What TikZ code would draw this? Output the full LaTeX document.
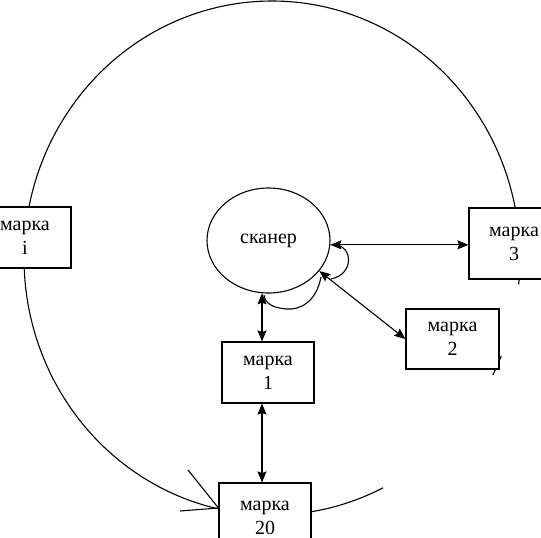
\documentclass[tikz,border=0pt]{standalone}
\usepackage{fontspec}
\setmainfont{Liberation Serif}
\usetikzlibrary{arrows.meta,calc,shapes.geometric}
\begin{document}
\begin{tikzpicture}[x=1pt,y=-1pt,
  every node/.style={font=\fontsize{20}{24}\selectfont},
  link/.style={line width=1.1pt},
  markbox/.style={draw, line width=1.1pt, fill=white, align=center, minimum width=92pt, minimum height=61pt, inner sep=0pt},
  scanbox/.style={draw, ellipse, line width=1.1pt, minimum width=123pt, minimum height=105pt, inner sep=0pt},
  dblarrow/.style={link, {Stealth[length=11pt,width=9pt,inset=1.5pt]}-{Stealth[length=11pt,width=9pt,inset=1.5pt]}}]
\useasboundingbox (0,0) rectangle (541,538);
% big ring (hand-drawn, broken)
\draw[link] plot[domain=102.3:348.9, samples=150, smooth] ({272+248*cos(\x)},{258+257*sin(\x)});
\draw[link] plot[domain=63.4:81, samples=30, smooth] ({272+248*cos(\x)},{258+257*sin(\x)});
\draw[link] plot[domain=4.5:5.9, samples=5] ({272+248*cos(\x)},{258+257*sin(\x)});
\draw[link] plot[domain=22.4:24.2, samples=5] ({272+248*cos(\x)},{258+257*sin(\x)});
\draw[link] plot[domain=25.6:27.1, samples=5] ({272+248*cos(\x)},{258+257*sin(\x)});
% nodes
\node[markbox] (mi) at (25,237.5) {марка\\i};
\node[markbox, minimum width=90pt, minimum height=71pt] (m3) at (514,243.5) {марка\\3};
\node[markbox, minimum width=93pt, minimum height=60pt] (m2) at (452.5,339) {марка\\2};
\node[markbox] (m1) at (268,372.5) {марка\\1};
\node[markbox, minimum height=70pt] (m20) at (265,518) {марка\\20};
\node[scanbox] (scan) at (268.5,240.5) {сканер};
% open arrowhead of the ring at marka 20
\coordinate (tip) at ([yshift=10pt]m20.west);
\draw[link] (188,470) -- (tip);
\draw[link] (180,511) -- (tip);
% connectors
\draw[dblarrow] (scan.-97) -- (scan.-97 |- m1.north);
\draw[dblarrow] (scan.-4) -- (scan.-4 -| m3.west);
\draw[dblarrow] (scan.-31) -- (m2.west);
\draw[dblarrow] ([xshift=-6pt]m1.south) -- ([xshift=-6pt]m1.south |- m20.north);
% self loops
\coordinate (l1a) at (336,245);
\coordinate (l1b) at (331,279);
\draw[link] (l1a) .. controls (352,246) and (355,274) .. (l1b);
\coordinate (l2a) at (321,277);
\coordinate (l2m) at (287,309);
\coordinate (l2b) at (264,295);
\draw[link] (l2a) .. controls (316,303) and (299,310) .. (l2m) .. controls (272,308) and (265,303) .. (l2b);
\end{tikzpicture}
\end{document}
